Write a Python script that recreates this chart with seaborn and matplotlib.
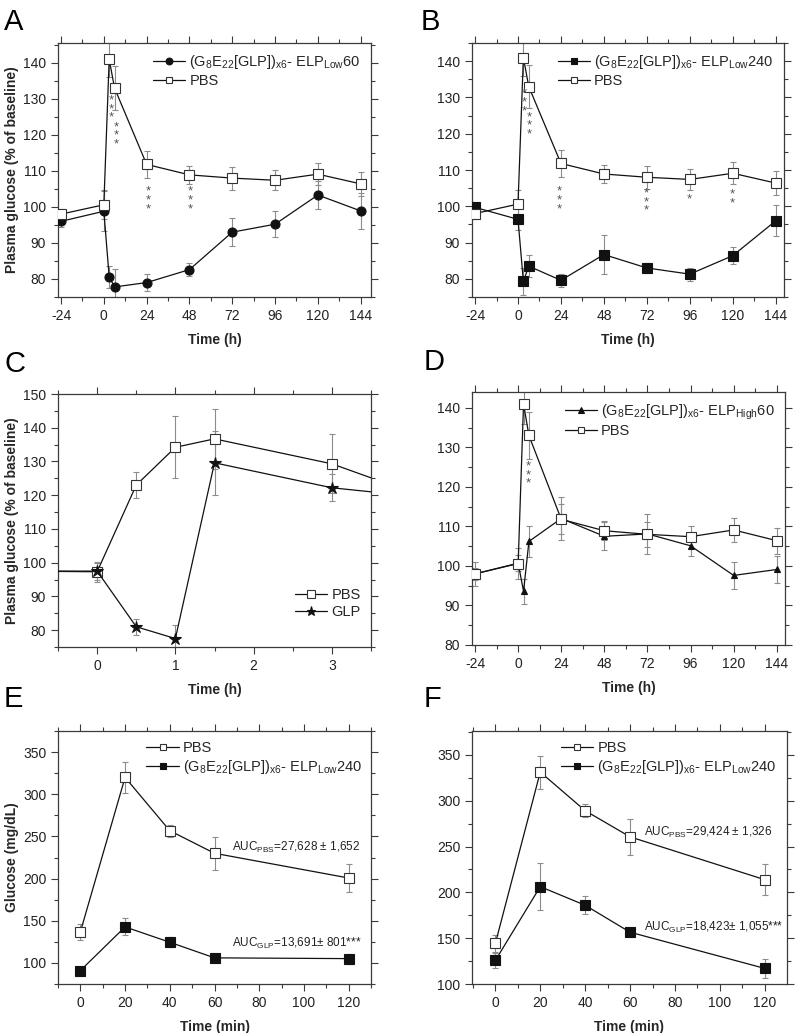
import matplotlib
matplotlib.use("Agg")
import matplotlib.pyplot as plt
import seaborn as sns
from matplotlib.ticker import MultipleLocator

# ---- data ----
time_h = [-24, 0, 3, 6, 24, 48, 72, 96, 120, 144]
pbs_h = [98.0, 100.6, 141.0, 133.0, 111.8, 108.9, 108.0, 107.4, 109.1, 106.4]
pbs_h_err = [1.5, 4.0, 5.0, 6.0, 3.8, 2.4, 3.2, 2.8, 3.0, 3.3]
low60 = [96.0, 98.8, 80.6, 77.8, 79.0, 82.6, 93.0, 95.2, 103.3, 98.9]
low60_err = [1.5, 5.5, 3.0, 5.0, 2.3, 1.8, 3.8, 3.6, 4.0, 5.0]
low240 = [99.7, 96.4, 79.3, 83.5, 79.6, 86.7, 83.0, 81.3, 86.4, 96.0]
low240_err = [1.5, 3.0, 3.8, 3.0, 1.8, 5.3, 1.3, 1.8, 2.3, 4.3]
high60 = [98.0, 100.7, 93.6, 106.2, 112.0, 107.5, 108.1, 105.1, 97.6, 99.1]
high60_err = [3.0, 2.0, 3.2, 4.0, 5.5, 3.5, 5.0, 2.5, 3.5, 3.3]

time_c = [-1, 0, 0.5, 1, 1.5, 3, 4]
pbs_c = [97.5, 97.3, 123.0, 134.2, 136.7, 129.3, 121.0]
pbs_c_err = [0, 3.0, 3.9, 9.2, 8.8, 8.7, 0]
glp_c = [97.5, 97.5, 81.0, 77.5, 129.6, 122.2, 119.8]
glp_c_err = [0, 2.5, 2.3, 4.0, 9.5, 4.0, 0]

time_min = [0, 20, 40, 60, 120]
pbs_e = [136.7, 320.0, 256.8, 230.0, 200.7]
pbs_e_err = [9, 18, 7, 19.5, 16.5]
glp_e = [90.9, 142.7, 124.5, 106.0, 105.1]
glp_e_err = [4, 10, 6, 5, 6]
pbs_f = [144.2, 331.2, 289.1, 260.5, 213.8]
pbs_f_err = [9, 18, 7, 20, 17]
glp_f = [125.7, 206.2, 185.9, 156.5, 117.0]
glp_f_err = [8, 26, 10, 2, 10]

# significance marks: (x, y, text)
stars_a = [(4.1, 127.1, "*\n*\n*"), (6.8, 119.8, "*\n*\n*"), (24.8, 101.8, "*\n*\n*"), (48.2, 101.8, "*\n*\n*")]
stars_b = [(3.4, 128.6, "*\n*\n*"), (6.1, 122.2, "*\n*\n*"), (22.9, 101.6, "*\n*\n*"),
           (71.7, 101.1, "*\n*\n*"), (95.5, 101.8, "*"), (119.7, 102.0, "*\n*")]
stars_d = [(5.8, 123.0, "*\n*\n*")]

LBL_LOW60 = r"(G$_\mathrm{8}$E$_\mathrm{22}$[GLP])$_\mathrm{x6}$- ELP$_\mathrm{Low}$60"
LBL_LOW240 = r"(G$_\mathrm{8}$E$_\mathrm{22}$[GLP])$_\mathrm{x6}$- ELP$_\mathrm{Low}$240"
LBL_HIGH60 = r"(G$_\mathrm{8}$E$_\mathrm{22}$[GLP])$_\mathrm{x6}$- ELP$_\mathrm{High}$60"

sns.set_theme(style="ticks")
plt.rcParams["font.family"] = ["Liberation Sans", "DejaVu Sans"]
plt.rcParams["mathtext.fontset"] = "custom"
plt.rcParams["mathtext.rm"] = "Liberation Sans"
plt.rcParams["mathtext.it"] = "Liberation Sans:italic"
plt.rcParams["mathtext.bf"] = "Liberation Sans:bold"
plt.rcParams["axes.unicode_minus"] = False

W, H = 796, 1033
fig = plt.figure(figsize=(W / 100, H / 100), dpi=100)

SPINE = "#3a3a3a"
ERR = "#8c8c8c"


def make_ax(left, right, top, bottom):
    return fig.add_axes([left / W, 1 - bottom / H, (right - left) / W, (bottom - top) / H])


def style(ax, xmaj, xmin, ymaj, ymin):
    ax.xaxis.set_major_locator(MultipleLocator(xmaj))
    ax.xaxis.set_minor_locator(MultipleLocator(xmin))
    ax.yaxis.set_major_locator(MultipleLocator(ymaj))
    ax.yaxis.set_minor_locator(MultipleLocator(ymin))
    ax.tick_params(which="both", direction="out", top=True, right=True, color=SPINE,
                   labelsize=10, labelcolor="#222222")
    ax.tick_params(which="major", length=5, width=0.8)
    ax.tick_params(which="minor", length=3, width=0.8)
    for s in ax.spines.values():
        s.set_color(SPINE)
        s.set_linewidth(0.9)
        s.set_visible(True)


def series(ax, x, y, err, marker, filled, label, ms):
    ax.errorbar(x, y, yerr=err, fmt="none", ecolor=ERR, elinewidth=0.8, capsize=2.5,
                capthick=0.8, zorder=1)
    sns.lineplot(x=x, y=y, ax=ax, color="#111111", linewidth=0.9, marker=marker,
                 markersize=ms, markerfacecolor="#111111" if filled else "white",
                 markeredgecolor="#111111" if filled else "#333333",
                 markeredgewidth=0.8, label=label, sort=False, zorder=3)


def stars(ax, marks):
    for x, y, t in marks:
        ax.text(x, y, t, ha="center", va="center", fontsize=9.5, color="#555555",
                linespacing=0.62)


def legend(ax, **kw):
    ax.legend(frameon=False, fontsize=10.5, handlelength=2.2, handletextpad=0.3,
              labelspacing=0.2, borderaxespad=0.3, markerscale=0.75, **kw)


# ---- A ----
axA = make_ax(58, 371, 43, 297)
series(axA, time_h, low60, low60_err, "o", True, LBL_LOW60, 6.5)
series(axA, time_h, pbs_h, pbs_h_err, "s", False, "PBS", 6.5)
stars(axA, stars_a)
axA.set_xlim(-25.7, 149.8)
axA.set_ylim(75, 145.5)
style(axA, 24, 12, 10, 5)
legend(axA, loc="upper right")

# ---- B ----
axB = make_ax(472, 784, 43, 297)
series(axB, time_h, low240, low240_err, "s", True, LBL_LOW240, 6.5)
series(axB, time_h, pbs_h, pbs_h_err, "s", False, "PBS", 6.5)
stars(axB, stars_b)
axB.set_xlim(-25.7, 148.6)
axB.set_ylim(75, 145)
style(axB, 24, 12, 10, 5)
legend(axB, loc="upper right")

# ---- C ----
axC = make_ax(58, 371, 394, 647)
series(axC, time_c, pbs_c, pbs_c_err, "s", False, "PBS", 7)
series(axC, time_c, glp_c, glp_c_err, "*", True, "GLP", 9)
axC.set_xlim(-0.5, 3.5)
axC.set_ylim(75, 150)
style(axC, 1, 0.5, 10, 5)
legend(axC, loc="lower right", bbox_to_anchor=(1.0, 0.07))

# ---- D ----
axD = make_ax(472, 785, 392, 645)
series(axD, time_h, high60, high60_err, "^", True, LBL_HIGH60, 5)
series(axD, time_h, pbs_h, pbs_h_err, "s", False, "PBS", 6.5)
stars(axD, stars_d)
axD.set_xlim(-25.7, 148.6)
axD.set_ylim(80, 144)
style(axD, 24, 12, 10, 5)
legend(axD, loc="upper right")

# ---- E ----
axE = make_ax(58, 371, 731, 984)
series(axE, time_min, pbs_e, pbs_e_err, "s", False, "PBS", 6.5)
series(axE, time_min, glp_e, glp_e_err, "s", True, LBL_LOW240, 6.5)
axE.text(68, 237, r"AUC$_\mathrm{PBS}$=27,628 ± 1,652", fontsize=8.5, color="#222222", va="center")
axE.text(68, 122.5, r"AUC$_\mathrm{GLP}$=13,691± 801***", fontsize=8.5, color="#222222", va="center")
axE.set_xlim(-10, 130)
axE.set_ylim(75, 375)
style(axE, 20, 10, 50, 25)
legend(axE, loc="upper left", bbox_to_anchor=(0.25, 1.0))

# ---- F ----
axF = make_ax(472, 787, 731, 984)
series(axF, time_min, pbs_f, pbs_f_err, "s", False, "PBS", 6.5)
series(axF, time_min, glp_f, glp_f_err, "s", True, LBL_LOW240, 6.5)
axF.text(66.4, 265, r"AUC$_\mathrm{PBS}$=29,424 ± 1,326", fontsize=8.5, color="#222222", va="center")
axF.text(66.4, 162, r"AUC$_\mathrm{GLP}$=18,423± 1,055***", fontsize=8.5, color="#222222", va="center")
axF.set_xlim(-10.4, 129.9)
axF.set_ylim(100, 376)
style(axF, 20, 10, 50, 25)
legend(axF, loc="upper left", bbox_to_anchor=(0.25, 1.0))

# axis labels
for ax in (axA, axB, axC, axD):
    ax.set_xlabel("Time (h)", fontsize=10, fontweight="bold", labelpad=7)
for ax in (axE, axF):
    ax.set_xlabel("Time (min)", fontsize=10, fontweight="bold", labelpad=7)
for ax in (axB, axD, axF):
    ax.set_ylabel("")
for ax in (axA, axC):
    ax.set_ylabel("Plasma glucose (% of baseline)", fontsize=10, fontweight="bold")
    ax.yaxis.set_label_coords(-0.125, 0.5)
axE.set_ylabel("Glucose (mg/dL)", fontsize=10, fontweight="bold")
axE.yaxis.set_label_coords(-0.125, 0.5)

# panel letters
for letter, x, y in [("A", 4, 8), ("B", 421, 8), ("C", 4, 350), ("D", 424, 348),
                     ("E", 4, 685), ("F", 424, 685)]:
    fig.text(x / W, 1 - y / H, letter, fontsize=21, va="top", ha="left", color="black")

fig.savefig("out.png", dpi=100)
